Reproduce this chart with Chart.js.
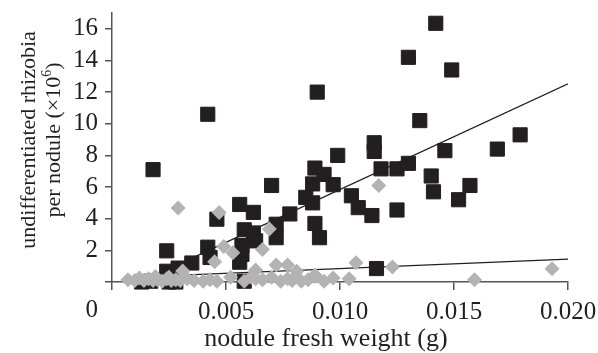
<!DOCTYPE html>
<html>
<head>
<meta charset="utf-8">
<script src="https://cdn.jsdelivr.net/npm/chart.js@4.4.0/dist/chart.umd.min.js"></script>
<style>
  html, body { margin: 0; padding: 0; background: #fff; }
  #wrap { width: 598px; height: 353px; }
</style>
</head>
<body>
<div id="wrap"><canvas id="chart"></canvas></div>
<script>
// black squares
const blackX = [0.0013, 0.0017, 0.0025, 0.0028, 0.0018, 0.0024, 0.0024, 0.0029, 0.0035, 0.0042,
  0.0042, 0.0043, 0.0046, 0.0056, 0.0058, 0.0057, 0.0057, 0.0056, 0.0062, 0.0062,
  0.0063, 0.0058, 0.0070, 0.0072, 0.0072, 0.0078, 0.0085, 0.0088, 0.0088, 0.0089,
  0.0093, 0.0097, 0.0099, 0.0089, 0.0091, 0.0090, 0.0105, 0.0108, 0.0114, 0.0115,
  0.0115, 0.0116, 0.0118, 0.0125, 0.0125, 0.0130, 0.0130, 0.0135, 0.0140, 0.0141,
  0.0142, 0.0146, 0.0149, 0.0152, 0.0157, 0.0169, 0.0179];
const blackY = [0.0, 0.05, 0.0, 0.0, 7.1, 1.97, 0.68, 0.88, 1.2, 10.6,
  2.2, 1.55, 3.97, 4.9, 3.3, 2.3, 1.75, 1.25, 4.4, 3.1,
  2.6, 0.05, 6.1, 3.65, 2.8, 4.3, 5.35, 5.0, 6.2, 7.2,
  6.8, 6.15, 8.0, 3.7, 2.8, 12.0, 5.45, 4.7, 4.2, 8.8,
  8.25, 0.85, 7.15, 7.15, 4.55, 7.5, 14.2, 10.2, 6.7, 5.7,
  16.35, 8.3, 13.4, 5.2, 6.1, 8.4, 9.3];

// grey diamonds
const greyX = [0.0007, 0.0010, 0.0012, 0.0014, 0.0016, 0.0018, 0.0020, 0.0022, 0.0024, 0.0026,
  0.0028, 0.0030, 0.0033, 0.0036, 0.0040, 0.0043, 0.0046, 0.0052, 0.0058, 0.0061,
  0.0063, 0.0066, 0.0070, 0.0074, 0.0077, 0.0079, 0.0083, 0.0086, 0.0089, 0.0093,
  0.0097, 0.0104, 0.0159,
  0.0029, 0.0047, 0.0045, 0.0031, 0.0049, 0.0053, 0.0066, 0.0069, 0.0117, 0.0107,
  0.0123, 0.0072, 0.0077, 0.0081, 0.0063, 0.0089, 0.0193, 0.0019, 0.0025];
const greyY = [0.15, 0.1, 0.25, 0.1, 0.2, 0.1, 0.15, 0.05, 0.2, 0.1,
  0.15, 0.1, 0.2, 0.1, 0.05, 0.15, 0.05, 0.3, 0.05, 0.3,
  0.2, 0.15, 0.3, 0.05, 0.2, 0.1, 0.05, 0.15, 0.35, 0.05,
  0.25, 0.2, 0.15,
  4.68, 4.4, 1.28, 0.7, 2.25, 1.85, 2.05, 3.35, 6.1, 1.22,
  0.95, 1.07, 1.07, 0.68, 0.76, 0.45, 0.83, 0.35, 0.3];

// fitted lines (end points)
const blackFitX = [0.00145, 0.020];
const blackFitY = [0.13, 12.52];
const greyFitX = [0.0007, 0.020];
const greyFitY = [0.29, 1.44];

const xTicks = [0, 0.005, 0.010, 0.015, 0.020];
const yTicks = [0, 2, 4, 6, 8, 10, 12, 14, 16];

const xTitle = "nodule fresh weight (g)";
const yTitle1 = "undifferentiated rhizobia";
const yTitle2 = "per nodule (\u00d710";

const ink = "#231f20";
const axisCol = "#555555";
const serif = '"Liberation Serif", "DejaVu Serif", serif';

function pts(xs, ys) {
  return xs.map((x, i) => ({ x: x, y: ys[i] }));
}

const axisText = {
  id: "axisText",
  afterDraw(chart) {
    const ctx = chart.ctx;
    const xs = chart.scales.x;
    const ys = chart.scales.y;
    ctx.save();
    ctx.fillStyle = ink;
    ctx.font = "25px " + serif;
    ctx.textAlign = "right";
    ctx.textBaseline = "middle";
    ctx.fillText("0", xs.getPixelForValue(0) - 14, ys.getPixelForValue(0) + 28);

    ctx.font = "26px " + serif;
    ctx.textAlign = "center";
    ctx.textBaseline = "alphabetic";
    ctx.fillText(xTitle, (xs.left + xs.right) / 2 - 14, 346);

    // y title, two rotated lines
    const cy = 140;
    ctx.save();
    ctx.translate(35, cy);
    ctx.rotate(-Math.PI / 2);
    ctx.font = "22px " + serif;
    ctx.textAlign = "center";
    ctx.fillText(yTitle1, 0, 0);
    ctx.restore();

    ctx.save();
    ctx.translate(60, cy);
    ctx.rotate(-Math.PI / 2);
    ctx.font = "22px " + serif;
    const w1 = ctx.measureText(yTitle2).width;
    ctx.font = "14px " + serif;
    const w2 = ctx.measureText("6").width;
    ctx.font = "22px " + serif;
    const w3 = ctx.measureText(")").width;
    let x0 = -(w1 + w2 + w3) / 2;
    ctx.textAlign = "left";
    ctx.fillText(yTitle2, x0, 0);
    ctx.font = "14px " + serif;
    ctx.fillText("6", x0 + w1, -9);
    ctx.font = "22px " + serif;
    ctx.fillText(")", x0 + w1 + w2, 0);
    ctx.restore();
    ctx.restore();
  }
};

new Chart(document.getElementById("chart"), {
  type: "scatter",
  data: {
    datasets: [
      {
        label: "grey",
        data: pts(greyX, greyY),
        pointStyle: "rectRot",
        pointRadius: 7.5,
        backgroundColor: "#b3b3b3",
        borderColor: "#b3b3b3",
        borderWidth: 0,
        clip: false
      },
      {
        label: "black",
        data: pts(blackX, blackY),
        pointStyle: "rect",
        pointRadius: 10,
        backgroundColor: ink,
        borderColor: ink,
        borderWidth: 1,
        clip: false
      },
      {
        type: "line",
        label: "fit black",
        data: pts(blackFitX, blackFitY),
        borderColor: ink,
        borderWidth: 1.3,
        pointRadius: 0,
        fill: false
      },
      {
        type: "line",
        label: "fit grey",
        data: pts(greyFitX, greyFitY),
        borderColor: ink,
        borderWidth: 1.3,
        pointRadius: 0,
        fill: false
      }
    ]
  },
  options: {
    animation: false,
    responsive: true,
    maintainAspectRatio: false,
    layout: { padding: { top: 13, right: 30, left: 0, bottom: 0 } },
    plugins: {
      legend: { display: false },
      tooltip: { enabled: false }
    },
    scales: {
      x: {
        type: "linear",
        min: 0,
        max: 0.02,
        afterFit: function (s) {
          s.height = 71;
          s.paddingLeft = 0;
          s.paddingRight = 0;
        },
        afterBuildTicks: function (s) { s.ticks = xTicks.map(v => ({ value: v })); },
        ticks: {
          callback: v => (v === 0 ? "" : v.toFixed(3)),
          font: { family: serif, size: 25 },
          color: ink,
          padding: 7,
          maxRotation: 0,
          autoSkip: false
        },
        grid: { drawOnChartArea: false, drawTicks: true, tickLength: 8, color: axisCol, lineWidth: 1.5 },
        border: { color: axisCol, width: 1.5 }
      },
      y: {
        type: "linear",
        min: 0,
        max: 17,
        afterFit: function (s) {
          s.width = 112;
          s.paddingTop = 0;
          s.paddingBottom = 0;
        },
        afterBuildTicks: function (s) { s.ticks = yTicks.map(v => ({ value: v })); },
        ticks: {
          callback: v => (v === 0 ? "" : v),
          font: { family: serif, size: 25 },
          color: ink,
          padding: 7
        },
        grid: { drawOnChartArea: false, drawTicks: true, tickLength: 7, color: axisCol, lineWidth: 1.5 },
        border: { color: axisCol, width: 1.5 }
      }
    }
  },
  plugins: [axisText]
});
</script>
</body>
</html>
